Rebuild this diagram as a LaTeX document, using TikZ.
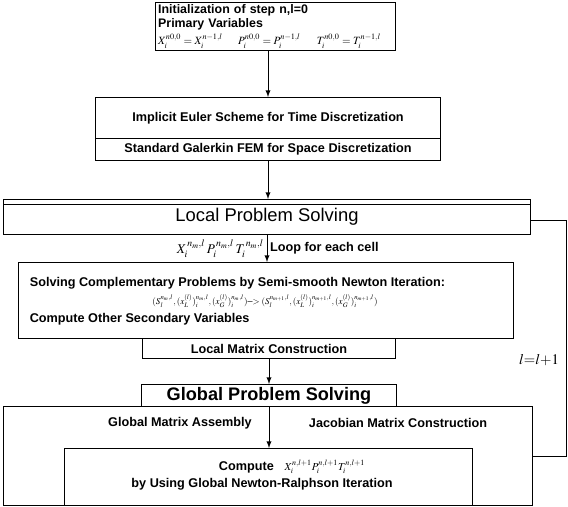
\documentclass[tikz,border=0pt]{standalone}
\usepackage{mathptmx}
\usepackage{fontspec}
\setmainfont{Liberation Sans}
\begin{document}
\begin{tikzpicture}[>=latex,x=0.75pt,y=-0.75pt,line width=0.75pt,
  box/.style={draw,inner sep=1pt,anchor=north west,font=\bfseries\fontsize{9.5}{11}\selectfont},
  wd/.style={minimum width=#1*0.75pt},
  ht/.style={minimum height=#1*0.75pt},
  txt/.style={inner sep=1pt,font=\bfseries\fontsize{9.5}{11}\selectfont}]
\useasboundingbox (0,0) rectangle (568,507);

\node (init) at (155,2)[box,wd=240,ht=48,text width=176pt,align=left,inner sep=1pt,font=\bfseries\fontsize{9.3}{10.2}\selectfont]
  {Initialization of step n,l=0\\Primary Variables\\[2pt]
   \normalfont\fontsize{8.3}{9}\selectfont
   \makebox[60pt][l]{$X_i^{n0,0}=X_i^{n-1,l}$}\makebox[59pt][l]{$P_i^{n0,0}=P_i^{n-1,l}$}\makebox[50pt][l]{$T_i^{n0,0}=T_i^{n-1,l}$}};
\node (euler) at (95,97)[box,wd=345,ht=41]{Implicit Euler Scheme for Time Discretization};
\node (galerkin) at (95,138)[box,wd=345,ht=22]{Standard Galerkin FEM for Space Discretization};

\node (local) at (3,199)[box,wd=527,ht=35,font=\fontsize{13.8}{15}\selectfont]{\raisebox{-3pt}{Local Problem Solving}};
\draw ([yshift=-3.75pt]local.north west)--([yshift=-3.75pt]local.north east);

\node (solve) at (18,262)[box,wd=495,ht=76]{};
\node (solvea) at (28,283)[txt,anchor=west]{Solving Complementary Problems by Semi-smooth Newton Iteration:};
\node (solveb) at (265,301)[inner sep=1pt,font=\fontsize{6.8}{8}\selectfont]
  {$(S_l^{n_m,l},(x_L^{(l)})_i^{n_m,l},(x_G^{(l)})_i^{n_m,l})$--$>(S_l^{n_{m+1},l},(x_L^{(l)})_i^{n_{m+1},l},(x_G^{(l)})_i^{n_{m+1},l})$};
\node (solvec) at (28,319)[txt,anchor=west]{Compute Other Secondary Variables};
\node (lmat) at (142,338)[box,wd=253,ht=20]{Local Matrix Construction};

\node (glob) at (141,384)[box,wd=255,ht=22,font=\bfseries\fontsize{13.6}{15}\selectfont]{Global Problem Solving};
\node (asm) at (3,406)[box,wd=529,ht=99]{};
\node (asma) at (180,423)[txt]{Global Matrix Assembly};
\node (asmb) at (398,423)[txt]{Jacobian Matrix Construction};
\node (comp) at (64,448)[box,wd=408,ht=57]{};
\node (compa) at (292,467)[txt]{Compute\hspace{8pt}\normalfont\fontsize{8}{9}\selectfont$X_i^{n,l+1}P_i^{n,l+1}T_i^{n,l+1}$};
\node (compb) at (262,484)[txt]{by Using Global Newton-Ralphson Iteration};

\node (iter) at (539,360)[font=\fontsize{11}{13}\selectfont]{$l{=}l{+}1$};

\draw[->] (euler.north |- init.south)--(euler.north);
\draw[->] (galerkin.south)--(galerkin.south |- local.north);
\draw[->] (local.south)--(local.south |- solve.north)
  node[midway,left,inner sep=2pt]{$X_i^{\,n_m,l}\,P_i^{\,n_m,l}\,T_i^{\,n_m,l}$}
  node[midway,right,txt,inner sep=2pt]{Loop for each cell};
\draw[->] (lmat.south)--(glob.north);
\draw[->] (glob.south)--(glob.south |- comp.north);

\coordinate (turn) at (566,220);
\draw (local.east |- turn)--(turn) |- (asm.east);
\end{tikzpicture}
\end{document}
